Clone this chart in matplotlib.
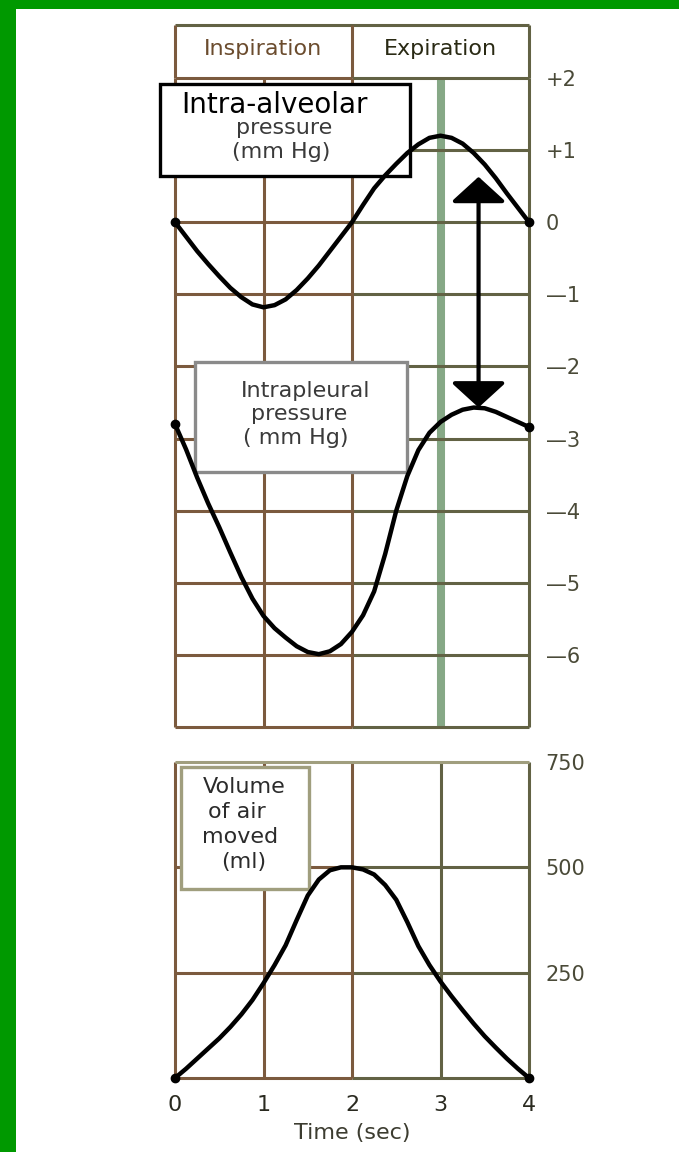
import numpy as np
import matplotlib
matplotlib.use("Agg")
import matplotlib.pyplot as plt
from matplotlib.patches import Rectangle

# breathing cycle readings, one every eighth of a second
time_sec = [0, 0.125, 0.25, 0.375, 0.5, 0.625, 0.75, 0.875,
            1.0, 1.125, 1.25, 1.375, 1.5, 1.625, 1.75, 1.875,
            2.0, 2.125, 2.25, 2.375, 2.5, 2.625, 2.75, 2.875,
            3.0, 3.125, 3.25, 3.375, 3.5, 3.625, 3.75, 3.875, 4.0]
alveolar_mmhg = [0, -0.2, -0.4, -0.58, -0.75, -0.91, -1.04, -1.14,
                 -1.18, -1.15, -1.07, -0.94, -0.78, -0.6, -0.4, -0.2,
                 0.0, 0.24, 0.47, 0.65, 0.81, 0.96, 1.08, 1.17,
                 1.2, 1.17, 1.09, 0.96, 0.8, 0.61, 0.4, 0.2, 0]
pleural_mmhg = [-2.8, -3.15, -3.54, -3.9, -4.23, -4.58, -4.92, -5.22,
                -5.46, -5.63, -5.76, -5.88, -5.96, -5.99, -5.95, -5.85,
                -5.68, -5.45, -5.12, -4.6, -4.0, -3.52, -3.16, -2.92,
                -2.77, -2.67, -2.6, -2.57, -2.58, -2.63, -2.7, -2.77, -2.84]
volume_ml = [0, 22, 46, 70, 94, 121, 151, 185,
             225, 268, 315, 375, 433, 471, 493, 500,
             500, 495, 483, 458, 423, 370, 313, 268,
             229, 194, 161, 129, 99, 72, 46, 22, 0]

pressure_ticks = [2, 1, 0, -1, -2, -3, -4, -5, -6]
pressure_labels = ["+2", "+1", "0", "\u20141", "\u20142", "\u20143",
                   "\u20144", "\u20145", "\u20146"]
volume_ticks = [250, 500, 750]
volume_labels = ["250", "500", "750"]
time_ticks = [0, 1, 2, 3, 4]
phases = ["Inspiration", "Expiration"]

W, H = 679, 1152
BROWN = "#7b5a3e"
OLIVE = "#626244"
PALE = "#a09e7e"
TICK = "#4a4a38"

plt.rcParams["font.family"] = "DejaVu Sans"
fig = plt.figure(figsize=(W / 100, H / 100), dpi=100)
fig.patch.set_facecolor("white")


def px_axes(left, top, right, bottom):
    return fig.add_axes([left / W, 1 - bottom / H,
                         (right - left) / W, (bottom - top) / H])


def fx(x):
    return x / W


def fy(y):
    return 1 - y / H


def grid(ax, ys, lo, hi, right_cols=(3, 4)):
    # left half of the chart in brown, right half in olive
    for y in ys:
        ax.hlines(y, 0, 2, color=BROWN, lw=2.2, zorder=2, clip_on=False)
        ax.hlines(y, 2, 4, color=OLIVE, lw=2.2, zorder=2, clip_on=False)
    ax.vlines([0, 1, 2], lo, hi, color=BROWN, lw=2.2, zorder=2, clip_on=False)
    ax.vlines(list(right_cols), lo, hi, color=OLIVE, lw=2.2, zorder=2,
              clip_on=False)


def label_box(ax, left, top, right, bottom, edge, lines):
    ax.add_patch(Rectangle((fx(left), fy(bottom)), fx(right) - fx(left),
                           fy(top) - fy(bottom), transform=fig.transFigure,
                           facecolor="white", edgecolor=edge, lw=2.4,
                           clip_on=False, zorder=3))
    for txt, cx, cy, size, col in lines:
        ax.text(fx(cx), fy(cy), txt, transform=fig.transFigure, ha="center",
                va="center", fontsize=size, color=col, zorder=4)


# green frame on the left and top
fig.patches.append(Rectangle((0, 0), fx(16), 1, transform=fig.transFigure,
                             facecolor="#009900", edgecolor="none"))
fig.patches.append(Rectangle((0, fy(9)), 1, 9 / H, transform=fig.transFigure,
                             facecolor="#009900", edgecolor="none"))

# phase header
head = px_axes(175, 25, 529, 78)
head.set_xlim(0, 4)
head.set_ylim(0, 1)
head.axis("off")
head.hlines(1, 0, 4, color=OLIVE, lw=2.2, clip_on=False)
head.vlines([0, 2], 0, 1, color=BROWN, lw=2.2, clip_on=False)
head.vlines([4], 0, 1, color=OLIVE, lw=2.2, clip_on=False)
head.text(1, 0.55, phases[0], ha="center", va="center", fontsize=16,
          color="#6b4c2e")
head.text(3, 0.55, phases[1], ha="center", va="center", fontsize=16,
          color="#2a2a14")

# pressures
ax1 = px_axes(175, 78, 529, 727)
ax1.set_xlim(0, 4)
ax1.set_ylim(-7, 2)
for s in ax1.spines.values():
    s.set_visible(False)
grid(ax1, pressure_ticks + [-7], -7, 2, right_cols=(4,))
ax1.axvline(3, color="#86a886", lw=5.8, zorder=1.5)
ax1.plot(time_sec, alveolar_mmhg, color="black", lw=3.2, zorder=5,
         solid_joinstyle="round", clip_on=False)
ax1.plot(time_sec, pleural_mmhg, color="black", lw=3.2, zorder=5,
         solid_joinstyle="round", clip_on=False)
for series in (alveolar_mmhg, pleural_mmhg):
    ax1.plot([time_sec[0], time_sec[-1]], [series[0], series[-1]], "o",
             color="black", ms=6, zorder=6, clip_on=False)
ax1.annotate("", xy=(3.43, max(pleural_mmhg)), xytext=(3.43, 0.63),
             arrowprops=dict(arrowstyle="<|-|>,head_length=1.55,head_width=1.7",
                             color="black", lw=3, shrinkA=0, shrinkB=0),
             zorder=6)
ax1.set_xticks([])
ax1.yaxis.tick_right()
ax1.set_yticks(pressure_ticks)
ax1.set_yticklabels(pressure_labels)
ax1.tick_params(axis="y", length=0, pad=12, labelsize=15, labelcolor=TICK)
for t in ax1.get_yticklabels():
    t.set_ha("left")

label_box(ax1, 160, 84, 410, 176, "black",
          [("Intra-alveolar", 275, 105, 20, "black"),
           ("pressure", 284, 128, 16, "#3a3a3a"),
           ("(mm Hg)", 281, 152, 16, "#3a3a3a")])
label_box(ax1, 195, 362, 407, 472, "#8a8a8a",
          [("Intrapleural", 306, 391, 16, "#3a3a3a"),
           ("pressure", 299, 414, 16, "#3a3a3a"),
           ("( mm Hg)", 296, 438, 16, "#3a3a3a")])

# volume of air
ax2 = px_axes(175, 762, 529, 1078)
ax2.set_xlim(0, 4)
ax2.set_ylim(0, 750)
for s in ax2.spines.values():
    s.set_visible(False)
grid(ax2, [0, 250, 500], 0, 750)
ax2.hlines(750, 0, 4, color=PALE, lw=2.2, zorder=2, clip_on=False)
ax2.plot(time_sec, volume_ml, color="black", lw=3.2, zorder=5,
         solid_joinstyle="round", clip_on=False)
ax2.plot([time_sec[0], time_sec[-1]], [volume_ml[0], volume_ml[-1]], "o",
         color="black", ms=6, zorder=6, clip_on=False)
ax2.yaxis.tick_right()
ax2.set_yticks(volume_ticks)
ax2.set_yticklabels(volume_labels)
ax2.tick_params(axis="y", length=0, pad=12, labelsize=15, labelcolor=TICK)
for t in ax2.get_yticklabels():
    t.set_ha("left")
ax2.set_xticks(time_ticks)
ax2.set_xticklabels([str(t) for t in time_ticks])
ax2.tick_params(axis="x", length=0, pad=12, labelsize=16, labelcolor="#2a2a20")
ax2.set_xlabel("Time (sec)", fontsize=16, color="#3c3c30", labelpad=6)

label_box(ax2, 181, 767, 309, 889, PALE,
          [("Volume", 244, 787, 16, "#2b2b2b"),
           ("of air", 237, 812, 16, "#2b2b2b"),
           ("moved", 240, 837, 16, "#2b2b2b"),
           ("(ml)", 244, 862, 16, "#2b2b2b")])

fig.savefig("out.png", dpi=100)
